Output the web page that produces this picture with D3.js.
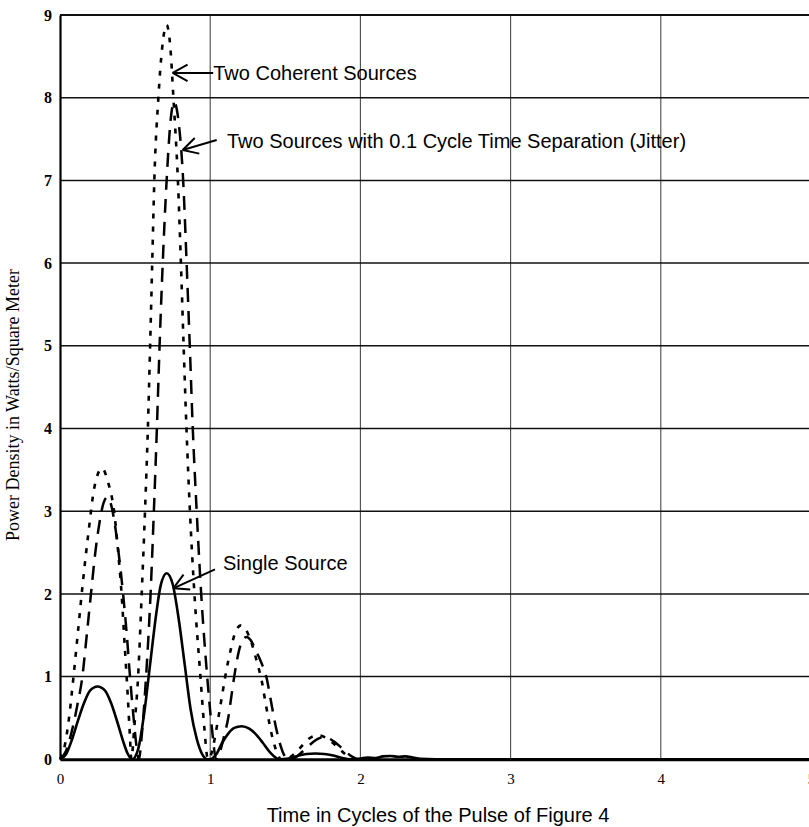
<!DOCTYPE html>
<html>
<head>
<meta charset="utf-8">
<script src="https://cdn.jsdelivr.net/npm/d3@7"></script>
<style>
  html, body { margin: 0; padding: 0; background: #fff; }
  svg { display: block; }
</style>
</head>
<body>
<svg id="chart" width="809" height="827"></svg>
<script>
// ---- Data ----
const xTicks = [0, 1, 2, 3, 4, 5];
const yTicks = [0, 1, 2, 3, 4, 5, 6, 7, 8, 9];

// Single Source (solid)
const singleX = [0, 0.04, 0.08, 0.12, 0.16, 0.2, 0.25, 0.3, 0.34, 0.38, 0.42, 0.45, 0.48,
  0.52, 0.56, 0.6, 0.64, 0.67, 0.71, 0.75, 0.79, 0.83, 0.87, 0.91, 0.95, 0.98,
  1.0, 1.04, 1.08, 1.12, 1.16, 1.21, 1.26, 1.3, 1.35, 1.4, 1.46,
  1.52, 1.58, 1.64, 1.7, 1.76, 1.82, 1.88, 1.93,
  2.0, 2.05, 2.1, 2.15, 2.2, 2.25, 2.3, 2.35, 2.4, 2.5, 5.0];
const singleY = [0, 0.06, 0.24, 0.47, 0.68, 0.83, 0.88, 0.83, 0.68, 0.46, 0.22, 0.07, 0,
  0.12, 0.55, 1.15, 1.75, 2.1, 2.25, 2.12, 1.7, 1.15, 0.6, 0.25, 0.05, 0,
  0, 0.06, 0.2, 0.31, 0.38, 0.40, 0.37, 0.31, 0.2, 0.08, 0,
  0.01, 0.04, 0.065, 0.07, 0.065, 0.045, 0.015, 0,
  0.01, 0.02, 0.015, 0.035, 0.04, 0.03, 0.035, 0.02, 0.005, 0, 0];

// Two Coherent Sources (short dash)
const coherentX = [0, 0.03, 0.06, 0.09, 0.12, 0.15, 0.19, 0.23, 0.28, 0.32, 0.36, 0.39, 0.41, 0.43, 0.45, 0.465, 0.475,
  0.495, 0.52, 0.544, 0.566, 0.585, 0.6, 0.614, 0.628, 0.655, 0.68, 0.71, 0.735, 0.755, 0.785, 0.805, 0.823, 0.842, 0.865, 0.895, 0.935, 0.96, 0.985,
  1.01, 1.03, 1.054, 1.08, 1.1, 1.14, 1.17, 1.205, 1.24, 1.28, 1.315, 1.343, 1.365, 1.387, 1.42, 1.45, 1.47,
  1.5, 1.55, 1.6, 1.65, 1.72, 1.78, 1.84, 1.9, 1.95];
const coherentY = [0, 0.15, 0.5, 1.0, 1.55, 2.1, 2.75, 3.3, 3.52, 3.35, 3.0, 2.45, 2.0, 1.4, 0.8, 0.3, 0,
  0.4, 1.0, 2.0, 3.0, 4.0, 5.0, 6.0, 7.0, 8.0, 8.6, 8.88, 8.6, 8.0, 7.0, 6.0, 5.0, 4.0, 3.0, 2.0, 1.0, 0.4, 0,
  0.08, 0.25, 0.5, 0.78, 1.0, 1.35, 1.55, 1.62, 1.56, 1.38, 1.15, 0.95, 0.72, 0.5, 0.22, 0.06, 0,
  0, 0.05, 0.14, 0.24, 0.29, 0.25, 0.16, 0.06, 0];

// Two Sources with 0.1 Cycle Time Separation (long dash)
const jitterX = [0, 0.04, 0.08, 0.115, 0.149, 0.178, 0.206, 0.235, 0.262, 0.29, 0.315, 0.34, 0.36, 0.39, 0.42, 0.445, 0.466, 0.49, 0.51, 0.525,
  0.545, 0.573, 0.603, 0.625, 0.645, 0.663, 0.684, 0.71, 0.735, 0.76, 0.79, 0.82, 0.843, 0.864, 0.884, 0.91, 0.94, 0.98, 1.01, 1.04,
  1.07, 1.095, 1.12, 1.14, 1.16, 1.19, 1.215, 1.243, 1.27, 1.3, 1.34, 1.376, 1.4, 1.425, 1.46, 1.49, 1.52,
  1.54, 1.6, 1.66, 1.72, 1.76, 1.82, 1.88, 1.93, 1.98];
const jitterY = [0, 0.1, 0.35, 0.65, 1.0, 1.5, 2.0, 2.5, 2.85, 3.1, 3.17, 3.08, 2.9, 2.5, 2.0, 1.5, 1.0, 0.5, 0.15, 0,
  0.3, 1.0, 2.0, 3.0, 4.0, 5.0, 6.0, 7.0, 7.7, 7.95, 7.7, 7.0, 6.0, 5.0, 4.0, 3.0, 2.0, 1.0, 0.4, 0,
  0.12, 0.3, 0.5, 0.75, 1.0, 1.3, 1.44, 1.48, 1.44, 1.33, 1.17, 0.98, 0.75, 0.5, 0.22, 0.06, 0,
  0, 0.07, 0.17, 0.25, 0.27, 0.22, 0.13, 0.05, 0];

const labelCoherent = "Two Coherent Sources";
const labelJitter = "Two Sources with 0.1 Cycle Time Separation (Jitter)";
const labelSingle = "Single Source";
const xTitle = "Time in Cycles of the Pulse of Figure 4";
const yTitle = "Power Density in Watts/Square Meter";

// ---- Layout ----
const svg = d3.select("#chart");
const W = 809, H = 827;
const x = d3.scaleLinear().domain([0, 5]).range([60, 811]);
const y = d3.scaleLinear().domain([0, 9]).range([759.3, 15]);

// Vertical gridlines
svg.append("g").selectAll("line").data(xTicks.filter(d => d > 0)).join("line")
  .attr("x1", d => x(d)).attr("x2", d => x(d))
  .attr("y1", y(9)).attr("y2", y(0))
  .attr("stroke", "#4a4a4a").attr("stroke-width", 1.1);

// Horizontal gridlines
svg.append("g").selectAll("line").data(yTicks.filter(d => d > 0)).join("line")
  .attr("x1", x(0)).attr("x2", W)
  .attr("y1", d => y(d)).attr("y2", d => y(d))
  .attr("stroke", "#111").attr("stroke-width", d => d === 9 ? 2.2 : 1.5);

// Axes (d3 axes, restyled)
const xAxis = svg.append("g").attr("transform", `translate(0,${y(0)})`)
  .call(d3.axisBottom(x).tickValues(xTicks).tickSize(0).tickPadding(14).tickFormat(d3.format("d")));
xAxis.select(".domain").attr("stroke", "#000").attr("stroke-width", 3);
xAxis.selectAll("text").attr("font-family", "'Liberation Serif', 'Times New Roman', serif")
  .attr("font-size", 15).attr("fill", "#000");

const yAxis = svg.append("g").attr("transform", `translate(${x(0)},0)`)
  .call(d3.axisLeft(y).tickValues(yTicks).tickSize(0).tickPadding(8).tickFormat(d3.format("d")));
yAxis.select(".domain").attr("stroke", "#000").attr("stroke-width", 2.2);
yAxis.selectAll("text").attr("font-family", "'Liberation Serif', 'Times New Roman', serif")
  .attr("font-size", 16).attr("font-weight", "bold").attr("fill", "#000");

// Curves
const line = d3.line().x(d => x(d[0])).y(d => y(d[1])).curve(d3.curveMonotoneX);
const zip = (xs, ys) => xs.map((v, i) => [v, ys[i]]);

svg.append("path").datum(zip(jitterX, jitterY))
  .attr("d", line).attr("fill", "none").attr("stroke", "#000")
  .attr("stroke-width", 2.5).attr("stroke-dasharray", "14,9");
svg.append("path").datum(zip(coherentX, coherentY))
  .attr("d", line).attr("fill", "none").attr("stroke", "#000")
  .attr("stroke-width", 2.6).attr("stroke-dasharray", "5,8");
svg.append("path").datum(zip(singleX, singleY))
  .attr("d", line).attr("fill", "none").attr("stroke", "#000")
  .attr("stroke-width", 2.6);

// Annotations with arrows
function arrow(x0, y0, x1, y1) { // from tail (x0,y0) to tip (x1,y1)
  const g = svg.append("g").attr("stroke", "#000").attr("stroke-width", 2).attr("fill", "none");
  g.append("line").attr("x1", x0).attr("y1", y0).attr("x2", x1).attr("y2", y1);
  const a = Math.atan2(y0 - y1, x0 - x1);
  const L = 17, spread = 0.5;
  [a - spread, a + spread].forEach(t => {
    g.append("line").attr("x1", x1).attr("y1", y1)
      .attr("x2", x1 + L * Math.cos(t)).attr("y2", y1 + L * Math.sin(t));
  });
}
const annFont = "'Liberation Sans', Arial, sans-serif";

arrow(x(1.02), y(8.3), x(0.75), y(8.3));
svg.append("text").attr("x", x(1.02)).attr("y", y(8.3) + 7.5).text(labelCoherent)
  .attr("font-family", annFont).attr("font-size", 20).attr("fill", "#000");

arrow(216.7, 140, 182.7, 150);
svg.append("text").attr("x", 227).attr("y", 148).text(labelJitter)
  .attr("font-family", annFont).attr("font-size", 20).attr("fill", "#000");

arrow(215, 569.3, 173.3, 588.3);
svg.append("text").attr("x", 223).attr("y", 570).text(labelSingle)
  .attr("font-family", annFont).attr("font-size", 20).attr("fill", "#000");

// Axis titles
svg.append("text").attr("x", 438).attr("y", 822).attr("text-anchor", "middle").text(xTitle)
  .attr("font-family", annFont).attr("font-size", 20).attr("fill", "#000");
svg.append("text").attr("transform", "translate(19,405) rotate(-90)").attr("text-anchor", "middle")
  .text(yTitle).attr("font-family", "'Liberation Serif', 'Times New Roman', serif")
  .attr("font-size", 18).attr("fill", "#000");
</script>
</body>
</html>
